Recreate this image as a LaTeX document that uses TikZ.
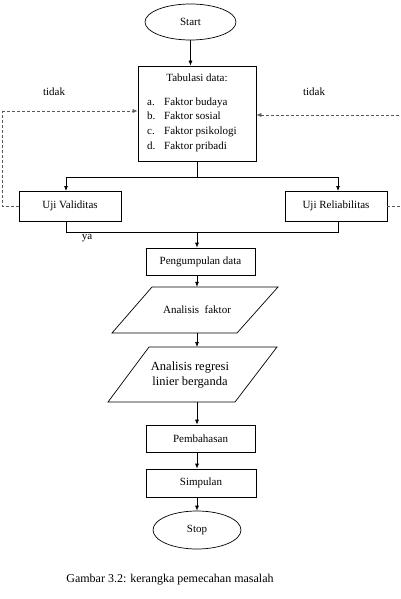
\documentclass[tikz,border=0pt]{standalone}
\usepackage{fontspec}
\setmainfont{Liberation Serif}
\usetikzlibrary{arrows.meta,shapes.geometric,calc}
\begin{document}
\begin{tikzpicture}[x=1pt,y=-1pt,
  every node/.style={font=\fontsize{11}{13}\selectfont, inner sep=0pt},
  box/.style={draw, line width=0.7pt, rectangle},
  oval/.style={draw, line width=0.7pt, ellipse},
  lbl/.style={anchor=base west},
  arr/.style={line width=0.7pt, -{Latex[length=5pt,width=4pt]}},
  ln/.style={line width=0.7pt},
  dsh/.style={line width=0.7pt, gray!70!black, dash pattern=on 3pt off 2pt, -{Latex[length=5pt,width=4pt]}},
  dshn/.style={line width=0.7pt, gray!70!black, dash pattern=on 3pt off 2pt}]
\useasboundingbox (0,0) rectangle (401,599);

% nodes
\node[oval, minimum width=91, minimum height=36] (start) at (190.5,22) {Start};
\node[box, minimum width=118, minimum height=95] (tab) at (197,113.5) {};
\node (tabt) at (197,78) {Tabulasi data:};
\node[lbl] (ia) at (147,105.5) {a.};
\node[lbl] (ib) at (147,120) {b.};
\node[lbl] (ic) at (147,134.5) {c.};
\node[lbl] (id) at (147,149) {d.};
\node[lbl] (ta) at (164,105.5) {Faktor budaya};
\node[lbl] (tb) at (164,120) {Faktor sosial};
\node[lbl] (tc) at (164,134.5) {Faktor psikologi};
\node[lbl] (td) at (164,149) {Faktor pribadi};
\node (tidakL) at (54,92) {tidak};
\node (tidakR) at (314,92) {tidak};

\node[box, minimum width=102, minimum height=30] (uv) at (70,206) {Uji Validitas};
\node[box, minimum width=102, minimum height=30] (ur) at (336,206) {Uji Reliabilitas};
\node (ya) at (87,238) {ya};

\node[box, minimum width=109, minimum height=27] (pd) at (200.5,261.5) {Pengumpulan data};

\draw[ln] (112,333) -- (237,333) -- (278,287) -- (152,287) -- cycle;
\node[minimum height=46] (af) at (197,310) {Analisis\ \ faktor};

\draw[ln] (108,402) -- (235,402) -- (277,347) -- (149,347) -- cycle;
\node[minimum height=55, align=center, font=\fontsize{12.5}{15}\selectfont] (ar) at (190,375) {Analisis regresi\\linier berganda};

\node[box, minimum width=109, minimum height=27] (pb) at (200.5,438.5) {Pembahasan};
\node[box, minimum width=110, minimum height=28] (sp) at (201,483) {Simpulan};
\node[oval, minimum width=88, minimum height=38] (stop) at (197,530) {Stop};

\node[font=\fontsize{12}{14}\selectfont] (cap) at (170,580) {Gambar 3.2: kerangka pemecahan masalah};

% connectors
\draw[arr] (start.south) -- (start.south |- tab.north);
\coordinate (sp1) at (197,177);
\draw[ln] (tab.south -| sp1) -- (sp1);
\draw[arr] (sp1) -| (66,191) coordinate (uvin);
\draw[arr] (sp1) -| (338,191) coordinate (urin);
\coordinate (jn) at (197,232);
\draw[ln] (uv.south -| 66,0) |- (jn);
\draw[ln] (ur.south -| 338,0) |- (jn);
\draw[arr] (jn) -- (jn |- pd.north);
\draw[arr] (pd.south -| jn) -- (jn |- af.north);
\draw[arr] (jn |- af.south) -- (jn |- 0,347);
\draw[arr] (jn |- 0,402) -- (pb.north -| jn);
\draw[arr] (pb.south -| jn) -- (sp.north -| jn);
\draw[arr] (sp.south -| stop.north) -- (stop.north);

% feedback dashed
\coordinate (lc) at (2,111);
\draw[dshn] (uv.west) -| (lc);
\draw[dsh] (lc) -- (lc -| tab.west);
\coordinate (rc) at (404,115);
\draw[dshn] (ur.east) -| (rc);
\draw[dsh] (rc) -- (rc -| tab.east);
\end{tikzpicture}
\end{document}
